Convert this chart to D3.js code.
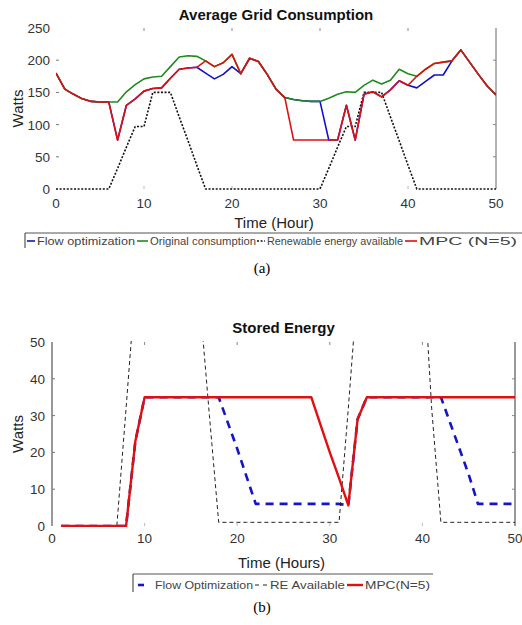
<!DOCTYPE html>
<html>
<head>
<meta charset="utf-8">
<script src="https://cdn.jsdelivr.net/npm/d3@7"></script>
<style>
  body { margin: 0; background: #fff; }
  svg { display: block; font-family: "Liberation Sans", Arial, sans-serif; }
</style>
</head>
<body>
<div id="chart"></div>
<script>
(function () {
  'use strict';

  // ── Panel (a): average grid consumption, hours 0..50 ──
  var hours = [0, 1, 2, 3, 4, 5, 6, 7, 8, 9, 10, 11, 12, 13, 14, 15, 16, 17, 18, 19, 20,
    21, 22, 23, 24, 25, 26, 27, 28, 29, 30, 31, 32, 33, 34, 35, 36, 37, 38, 39, 40,
    41, 42, 43, 44, 45, 46, 47, 48, 49, 50];
  var flowOpt = [180, 155, 147, 140, 136, 135, 135, 76, 130, 140, 152, 156, 157, 172, 186, 188, 189,
    180, 171, 178, 190, 179, 203, 198, 178, 155, 142, 139, 137, 136, 136, 76, 76, 130, 76, 147,
    151, 143, 154, 168, 161, 157, 167, 177, 177, 199, 216, 197, 178, 160, 146];
  var original = [180, 155, 147, 140, 136, 135, 135, 135, 151, 162, 171, 174, 175, 190, 205, 207, 206,
    199, 190, 196, 209, 179, 203, 198, 178, 155, 142, 139, 137, 136, 136, 141, 147, 151, 150, 161,
    169, 163, 169, 186, 179, 175, 186, 195, 197, 199, 216, 197, 178, 160, 146];
  var renewable = [0, 0, 0, 0, 0, 0, 0, 32, 65, 97, 97, 150, 150, 150, 112, 75, 37, 0, 0, 0, 0,
    0, 0, 0, 0, 0, 0, 0, 0, 0, 0, 32, 65, 97, 97, 150, 150, 150, 112, 75, 37, 0, 0, 0, 0,
    0, 0, 0, 0, 0, 0];
  var mpc = [180, 155, 147, 140, 136, 135, 135, 76, 130, 140, 152, 156, 157, 172, 186, 188, 189,
    199, 190, 196, 209, 179, 203, 198, 178, 155, 142, 76, 76, 76, 76, 76, 76, 130, 76, 147,
    151, 143, 154, 168, 161, 175, 186, 195, 197, 199, 216, 197, 178, 160, 146];
  var xTicksA = [0, 10, 20, 30, 40, 50];
  var yTicksA = [0, 50, 100, 150, 200, 250];

  // ── Panel (b): stored energy, hours 1..50 ──
  var hoursB = [1, 2, 3, 4, 5, 6, 7, 8, 9, 10, 11, 12, 13, 14, 15, 16, 17, 18, 19, 20,
    21, 22, 23, 24, 25, 26, 27, 28, 29, 30, 31, 32, 33, 34, 35, 36, 37, 38, 39, 40,
    41, 42, 43, 44, 45, 46, 47, 48, 49, 50];
  var flowOptB = [0, 0, 0, 0, 0, 0, 0, 0, 23, 35, 35, 35, 35, 35, 35, 35, 35, 35, 28, 21,
    13.5, 6, 6, 6, 6, 6, 6, 6, 6, 6, 6, 5.6, 29, 35, 35, 35, 35, 35, 35, 35,
    35, 35, 28, 21, 14, 6, 6, 6, 6, 6];
  var reAvailB = [0, 0, 0, 0, 0, 0, 0, 32, 65, 97, 97, 150, 150, 150, 112, 60, 30, 1, 1, 1,
    1, 1, 1, 1, 1, 1, 1, 1, 1, 1, 1, 32, 65, 97, 97, 150, 150, 150, 112, 75,
    32, 1, 1, 1, 1, 1, 1, 1, 1, 1];
  var mpcB = [0, 0, 0, 0, 0, 0, 0, 0, 23, 35, 35, 35, 35, 35, 35, 35, 35, 35, 35, 35,
    35, 35, 35, 35, 35, 35, 35, 35, 27.5, 20, 13, 5.6, 29, 35, 35, 35, 35, 35, 35, 35,
    35, 35, 35, 35, 35, 35, 35, 35, 35, 35];
  var xTicksB = [0, 10, 20, 30, 40, 50];
  var yTicksB = [0, 10, 20, 30, 40, 50];

  var W = 522, H = 625;
  var svg = d3.select('#chart').append('svg')
    .attr('width', W)
    .attr('height', H);

  function drawPanel(p) {
    var x = d3.scaleLinear().domain([0, 50]).range([p.left, p.right]);
    var y = d3.scaleLinear().domain(p.yDomain).range([p.bottom, p.top]);
    var g = svg.append('g');

    g.append('clipPath').attr('id', p.id + '-clip')
      .append('rect')
      .attr('x', p.left).attr('y', p.top - 1)
      .attr('width', p.right - p.left).attr('height', p.bottom - p.top + 2);

    // box lines (only the ones that survived in the scan)
    p.box.forEach(function (side) {
      var l = g.append('line').attr('stroke', side.color).attr('stroke-width', 1);
      if (side.at === 'left') l.attr('x1', p.left).attr('x2', p.left).attr('y1', p.top).attr('y2', p.bottom);
      if (side.at === 'right') l.attr('x1', p.right).attr('x2', p.right).attr('y1', p.top).attr('y2', p.bottom);
    });

    // inward ticks on all four sides
    var tickLen = 3;
    p.xTicks.forEach(function (t) {
      if (t === 0 || t === 50) return;
      g.append('line').attr('x1', x(t)).attr('x2', x(t)).attr('y1', p.top).attr('y2', p.top + tickLen)
        .attr('stroke', '#888');
      g.append('line').attr('x1', x(t)).attr('x2', x(t)).attr('y1', p.bottom).attr('y2', p.bottom - tickLen)
        .attr('stroke', '#bbb');
    });
    p.yTicks.forEach(function (t) {
      if (t === p.yDomain[0] || t === p.yDomain[1]) return;
      g.append('line').attr('x1', p.left).attr('x2', p.left + tickLen).attr('y1', y(t)).attr('y2', y(t))
        .attr('stroke', '#777');
      g.append('line').attr('x1', p.right).attr('x2', p.right - tickLen).attr('y1', y(t)).attr('y2', y(t))
        .attr('stroke', '#888');
    });

    // tick labels
    g.selectAll('.xt').data(p.xTicks).enter().append('text')
      .attr('x', function (d) { return x(d); })
      .attr('y', p.bottom + p.xLabelDy)
      .attr('text-anchor', 'middle')
      .attr('font-size', '13.5px')
      .attr('fill', '#333')
      .text(function (d) { return d; });
    g.selectAll('.yt').data(p.yTicks).enter().append('text')
      .attr('x', p.left - p.yLabelGap)
      .attr('y', function (d) { return y(d) + 5; })
      .attr('text-anchor', 'end')
      .attr('font-size', '13.5px')
      .attr('fill', '#333')
      .text(function (d) { return d; });

    // title & axis titles
    g.append('text')
      .attr('x', (p.left + p.right) / 2).attr('y', p.titleY)
      .attr('text-anchor', 'middle').attr('font-weight', 'bold').attr('font-size', '15px')
      .attr('fill', '#111')
      .text(p.title);
    g.append('text')
      .attr('x', (p.left + p.right) / 2 - 2).attr('y', p.xTitleY)
      .attr('text-anchor', 'middle').attr('font-size', '15px').attr('fill', '#222')
      .text(p.xTitle);
    g.append('text')
      .attr('transform', 'translate(' + p.yTitleX + ',' + ((p.top + p.bottom) / 2) + ') rotate(-90)')
      .attr('text-anchor', 'middle').attr('font-size', '15px').attr('fill', '#222')
      .text('Watts');

    // series
    var plot = g.append('g').attr('clip-path', 'url(#' + p.id + '-clip)');
    p.series.forEach(function (s) {
      var line = d3.line()
        .x(function (d, i) { return x(s.xs[i]); })
        .y(function (d) { return y(d); });
      plot.append('path')
        .datum(s.values)
        .attr('fill', 'none')
        .attr('stroke', s.color)
        .attr('stroke-width', s.width)
        .attr('stroke-dasharray', s.dash || null)
        .attr('stroke-linejoin', 'round')
        .attr('d', line);
    });

    // legend (only top and left borders visible)
    var lg = svg.append('g');
    lg.append('line').attr('x1', p.legend.x0).attr('x2', p.legend.x1)
      .attr('y1', p.legend.top).attr('y2', p.legend.top).attr('stroke', '#555');
    lg.append('line').attr('x1', p.legend.x0).attr('x2', p.legend.x0)
      .attr('y1', p.legend.top).attr('y2', p.legend.top + p.legend.h).attr('stroke', '#333');
    p.legend.items.forEach(function (it) {
      var s = it.series;
      lg.append('line')
        .attr('x1', it.lx0).attr('x2', it.lx1)
        .attr('y1', p.legend.cy).attr('y2', p.legend.cy)
        .attr('stroke', s.color).attr('stroke-width', s.legendWidth || s.width)
        .attr('stroke-dasharray', s.legendDash || s.dash || null);
      lg.append('text')
        .attr('x', it.tx).attr('y', p.legend.cy + 3.8)
        .attr('font-size', '10.5px').attr('fill', '#444')
        .attr('textLength', it.tw).attr('lengthAdjust', 'spacingAndGlyphs')
        .text(s.name);
    });
  }

  var sFlow = { name: 'Flow optimization', xs: hours, values: flowOpt, color: '#1010c8', width: 1.6 };
  var sOrig = { name: 'Original consumption', xs: hours, values: original, color: '#1f8a1f', width: 1.6 };
  var sRe = { name: 'Renewable energy available', xs: hours, values: renewable, color: '#111', width: 1.6, dash: '2,1.6' };
  var sMpc = { name: 'MPC (N=5)', xs: hours, values: mpc, color: '#e01010', width: 1.6 };

  drawPanel({
    id: 'a', left: 56, right: 496, top: 28, bottom: 189, yDomain: [0, 250],
    xTicks: xTicksA, yTicks: yTicksA, xLabelDy: 19, yLabelGap: 6,
    title: 'Average Grid Consumption', titleY: 20,
    xTitle: 'Time (Hour)', xTitleY: 228, yTitleX: 23,
    box: [{ at: 'right', color: '#666' }],
    series: [sFlow, sOrig, sRe, sMpc],
    legend: {
      x0: 25, x1: 522, top: 233, h: 15, cy: 241,
      items: [
        { series: sFlow, lx0: 27, lx1: 35, tx: 37, tw: 98 },
        { series: sOrig, lx0: 137, lx1: 148, tx: 150, tw: 106 },
        { series: sRe, lx0: 257, lx1: 265, tx: 267, tw: 136 },
        { series: sMpc, lx0: 405, lx1: 417, tx: 419, tw: 98 }
      ]
    }
  });

  var bFlow = { name: 'Flow Optimization', xs: hoursB, values: flowOptB, color: '#1515c8', width: 2.6, dash: '8,6', legendDash: null };
  var bRe = { name: 'RE Available', xs: hoursB, values: reAvailB, color: '#222', width: 1, dash: '4,3', legendDash: '4,4' };
  var bMpc = { name: 'MPC(N=5)', xs: hoursB, values: mpcB, color: '#e01010', width: 2.4 };

  drawPanel({
    id: 'b', left: 52, right: 515, top: 342, bottom: 526, yDomain: [0, 50],
    xTicks: xTicksB, yTicks: yTicksB, xLabelDy: 17, yLabelGap: 7,
    title: 'Stored Energy', titleY: 333,
    xTitle: 'Time (Hours)', xTitleY: 568, yTitleX: 23,
    box: [{ at: 'left', color: '#333' }, { at: 'right', color: '#333' }],
    series: [bFlow, bRe, bMpc],
    legend: {
      x0: 133, x1: 433, top: 574, h: 18, cy: 585,
      items: [
        { series: bFlow, lx0: 138, lx1: 144, tx: 155, tw: 98 },
        { series: bRe, lx0: 255, lx1: 267, tx: 270, tw: 75 },
        { series: bMpc, lx0: 347, lx1: 363, tx: 365, tw: 65 }
      ]
    }
  });

  // sub-figure captions
  svg.append('text').attr('x', 262).attr('y', 273).attr('text-anchor', 'middle')
    .attr('font-family', '"Liberation Serif", "Times New Roman", serif').attr('font-size', '15px')
    .text('(a)');
  svg.append('text').attr('x', 262).attr('y', 612).attr('text-anchor', 'middle')
    .attr('font-family', '"Liberation Serif", "Times New Roman", serif').attr('font-size', '15px')
    .text('(b)');
})();
</script>
</body>
</html>
